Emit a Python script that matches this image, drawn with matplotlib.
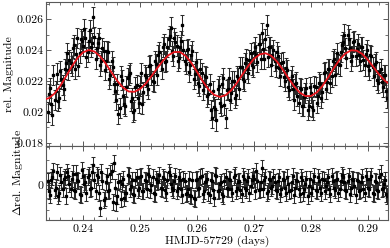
import matplotlib
matplotlib.use("Agg")
import matplotlib.pyplot as plt
from matplotlib.ticker import MultipleLocator, FuncFormatter, FixedLocator

plt.rcParams['font.family'] = ['cmr10', 'DejaVu Serif']
plt.rcParams['mathtext.fontset'] = 'cm'
plt.rcParams['axes.unicode_minus'] = False

# ---- data (two interleaved cadences) ----
hmjd_a = [0.2338, 0.2342, 0.2346, 0.2350, 0.2354, 0.2358, 0.2362, 0.2366, 0.2370, 0.2374,
          0.2378, 0.2382, 0.2386, 0.2390, 0.2394, 0.2398, 0.2402, 0.2406, 0.2410, 0.2414,
          0.2418, 0.2422, 0.2426, 0.2430, 0.2434, 0.2438, 0.2442, 0.2446, 0.2450, 0.2454,
          0.2458, 0.2462, 0.2466, 0.2470, 0.2474, 0.2478, 0.2482, 0.2486, 0.2490, 0.2494,
          0.2498, 0.2502, 0.2506, 0.2510, 0.2514, 0.2518, 0.2522, 0.2526, 0.2530, 0.2534,
          0.2538, 0.2542, 0.2546, 0.2550, 0.2554, 0.2558, 0.2562, 0.2566, 0.2570, 0.2574,
          0.2578, 0.2582, 0.2586, 0.2590, 0.2594, 0.2598, 0.2602, 0.2606, 0.2610, 0.2614,
          0.2618, 0.2622, 0.2626, 0.2630, 0.2634, 0.2638, 0.2642, 0.2646, 0.2650, 0.2654,
          0.2658, 0.2662, 0.2666, 0.2670, 0.2674, 0.2678, 0.2682, 0.2686, 0.2690, 0.2694,
          0.2698, 0.2702, 0.2706, 0.2710, 0.2714, 0.2718, 0.2722, 0.2726, 0.2730, 0.2734,
          0.2738, 0.2742, 0.2746, 0.2750, 0.2754, 0.2758, 0.2762, 0.2766, 0.2770, 0.2774,
          0.2778, 0.2782, 0.2786, 0.2790, 0.2794, 0.2798, 0.2802, 0.2806, 0.2810, 0.2814,
          0.2818, 0.2822, 0.2826, 0.2830, 0.2834, 0.2838, 0.2842, 0.2846, 0.2850, 0.2854,
          0.2858, 0.2862, 0.2866, 0.2870, 0.2874, 0.2878, 0.2882, 0.2886, 0.2890, 0.2894,
          0.2898, 0.2902, 0.2906, 0.2910, 0.2914, 0.2918, 0.2922, 0.2926, 0.2930, 0.2934]

mag_a = [0.01997, 0.02155, 0.01983, 0.02079, 0.02248, 0.02088, 0.02210, 0.02145, 0.02319, 0.02274,
         0.02319, 0.02413, 0.02275, 0.02477, 0.02382, 0.02457, 0.02538, 0.02355, 0.02460, 0.02420,
         0.02610, 0.02340, 0.02445, 0.02300, 0.02415, 0.02270, 0.02395, 0.02210, 0.02330, 0.02180,
         0.02075, 0.01985, 0.02230, 0.02105, 0.02040, 0.02220, 0.02250, 0.02090, 0.02015, 0.02175,
         0.02060, 0.02250, 0.02130, 0.02225, 0.02150, 0.02300, 0.02200, 0.02330, 0.02240, 0.02385,
         0.02280, 0.02440, 0.02330, 0.02470, 0.02545, 0.02360, 0.02450, 0.02330, 0.02420, 0.02560,
         0.02330, 0.02400, 0.02260, 0.02370, 0.02215, 0.02320, 0.02190, 0.02280, 0.02140, 0.02230,
         0.02100, 0.02180, 0.01960, 0.02030, 0.01945, 0.02170, 0.02040, 0.02220, 0.01960, 0.02150,
         0.02080, 0.02200, 0.02090, 0.02230, 0.02150, 0.02290, 0.02200, 0.02340, 0.02250, 0.02380,
         0.02290, 0.02420, 0.02320, 0.02440, 0.02510, 0.02340, 0.02560, 0.02420, 0.02300, 0.02400,
         0.02290, 0.02360, 0.02230, 0.02320, 0.02200, 0.02270, 0.02140, 0.02230, 0.02080, 0.02190,
         0.02060, 0.02150, 0.02040, 0.02120, 0.02010, 0.02160, 0.02030, 0.02170, 0.02060, 0.02190,
         0.02090, 0.02250, 0.02150, 0.02280, 0.02190, 0.02330, 0.02240, 0.02380, 0.02300, 0.02430,
         0.02500, 0.02350, 0.02470, 0.02330, 0.02450, 0.02360, 0.02440, 0.02330, 0.02420, 0.02300,
         0.02400, 0.02270, 0.02360, 0.02230, 0.02320, 0.02190, 0.02280, 0.02160, 0.02240, 0.02090]

res_a_e4 = [3, -8, 6, -4, 10, -6, 2, 5, -9, 7,
            -3, 9, -5, 4, -7, 12, 1, -6, 8, -2,
            16, -5, 6, -18, 3, -10, 7, -4, 11, 17,
            -14, 2, -11, 5, -6, 8, -3, 4, -8, 6,
            -2, 7, -5, 3, 9, -4, 6, -7, 2, 8,
            -3, 5, -6, 10, 1, -4, 7, -2, 4, -8,
            3, -6, 5, -9, -10, 4, -3, 6, -7, 2,
            5, -8, 3, -10, 7, -4, 2, -9, 6, -3,
            4, -6, 8, -2, 3, -7, 5, -4, 6, -1,
            7, -5, 3, -3, 13, 4, -6, 5, -2, 6,
            -4, 3, -7, 5, -2, 6, -5, 2, -8, 4,
            -3, 6, -6, 1, -9, 5, -2, 7, -5, 3,
            -6, 4, -1, 6, -7, 3, -4, 5, -3, 8,
            2, -5, 7, -2, 4, -8, 3, -4, 6, -6,
            5, -3, 7, -7, 2, -5, 9, -2, 4, -9]

hmjd_b = [0.2340, 0.2344, 0.2348, 0.2352, 0.2356, 0.2360, 0.2364, 0.2368, 0.2372, 0.2376,
          0.2380, 0.2384, 0.2388, 0.2392, 0.2396, 0.2400, 0.2404, 0.2408, 0.2412, 0.2416,
          0.2420, 0.2424, 0.2428, 0.2432, 0.2436, 0.2440, 0.2444, 0.2448, 0.2452, 0.2456,
          0.2460, 0.2464, 0.2468, 0.2472, 0.2476, 0.2480, 0.2484, 0.2488, 0.2492, 0.2496,
          0.2500, 0.2504, 0.2508, 0.2512, 0.2516, 0.2520, 0.2524, 0.2528, 0.2532, 0.2536,
          0.2540, 0.2544, 0.2548, 0.2552, 0.2556, 0.2560, 0.2564, 0.2568, 0.2572, 0.2576,
          0.2580, 0.2584, 0.2588, 0.2592, 0.2596, 0.2600, 0.2604, 0.2608, 0.2612, 0.2616,
          0.2620, 0.2624, 0.2628, 0.2632, 0.2636, 0.2640, 0.2644, 0.2648, 0.2652, 0.2656,
          0.2660, 0.2664, 0.2668, 0.2672, 0.2676, 0.2680, 0.2684, 0.2688, 0.2692, 0.2696,
          0.2700, 0.2704, 0.2708, 0.2712, 0.2716, 0.2720, 0.2724, 0.2728, 0.2732, 0.2736,
          0.2740, 0.2744, 0.2748, 0.2752, 0.2756, 0.2760, 0.2764, 0.2768, 0.2772, 0.2776,
          0.2780, 0.2784, 0.2788, 0.2792, 0.2796, 0.2800, 0.2804, 0.2808, 0.2812, 0.2816,
          0.2820, 0.2824, 0.2828, 0.2832, 0.2836, 0.2840, 0.2844, 0.2848, 0.2852, 0.2856,
          0.2860, 0.2864, 0.2868, 0.2872, 0.2876, 0.2880, 0.2884, 0.2888, 0.2892, 0.2896,
          0.2900, 0.2904, 0.2908, 0.2912, 0.2916, 0.2920, 0.2924, 0.2928, 0.2932]

mag_b = [0.02115, 0.02054, 0.02241, 0.02138, 0.02073, 0.02264, 0.02172, 0.02277, 0.02381, 0.02336,
         0.02296, 0.02434, 0.02371, 0.02295, 0.02470, 0.02425, 0.02477, 0.02388, 0.02530, 0.02448,
         0.02482, 0.02411, 0.02477, 0.02330, 0.02391, 0.02326, 0.02389, 0.02236, 0.02289, 0.02132,
         0.02181, 0.02024, 0.02206, 0.02053, 0.02164, 0.02236, 0.02070, 0.01999, 0.02163, 0.02090,
         0.02168, 0.02052, 0.02236, 0.02177, 0.02296, 0.02241, 0.02196, 0.02307, 0.02367, 0.02331,
         0.02420, 0.02320, 0.02420, 0.02491, 0.02394, 0.02476, 0.02429, 0.02349, 0.02457, 0.02402,
         0.02310, 0.02404, 0.02306, 0.02396, 0.02242, 0.02274, 0.02165, 0.02250, 0.02178, 0.02226,
         0.02117, 0.02011, 0.02137, 0.02016, 0.02150, 0.02057, 0.02180, 0.02045, 0.02144, 0.02217,
         0.02120, 0.02198, 0.02108, 0.02219, 0.02292, 0.02214, 0.02316, 0.02278, 0.02337, 0.02306,
         0.02384, 0.02366, 0.02437, 0.02344, 0.02408, 0.02468, 0.02353, 0.02417, 0.02366, 0.02331,
         0.02386, 0.02286, 0.02316, 0.02225, 0.02283, 0.02160, 0.02208, 0.02148, 0.02179, 0.02102,
         0.02157, 0.02037, 0.02098, 0.02152, 0.02040, 0.02123, 0.02010, 0.02161, 0.02105, 0.02182,
         0.02128, 0.02260, 0.02192, 0.02275, 0.02229, 0.02343, 0.02316, 0.02307, 0.02385, 0.02451,
         0.02415, 0.02495, 0.02414, 0.02359, 0.02459, 0.02405, 0.02368, 0.02419, 0.02336, 0.02371,
         0.02295, 0.02366, 0.02287, 0.02308, 0.02208, 0.02260, 0.02194, 0.02238, 0.02135]

res_b_e4 = [-5, 4, 11, -2, -9, 8, -3, 6, 10, 1,
            5, -4, 9, 3, -8, 7, 2, 6, -3, 10,
            4, 8, -6, 10, -12, 2, -5, 9, -13, -2,
            -9, 3, 1, -10, -6, 7, -1, -7, 4, -4,
            6, -5, 4, -3, 7, 0, -6, 5, 3, -2,
            6, -4, 4, 8, -2, 3, -5, 6, -3, 5,
            -7, -3, -8, 4, -11, 5, -2, 7, -5, 3,
            -6, 4, -4, 8, -5, 1, -7, 3, -2, 5,
            -3, 6, -5, 2, -4, 7, -2, 3, -6, 4,
            5, 11, -4, 2, -3, 6, -5, 4, -1, 2,
            -5, 6, -3, 4, -6, 1, -4, 7, -2, 3,
            -7, 4, -3, 5, -1, -6, 3, -4, 6, -2,
            5, -5, 2, -3, 7, -2, 4, -6, 3, 6,
            -4, 3, -7, 5, -1, 4, -5, 2, -3, 7,
            -2, 5, -6, 3, -4, 6, -3, 1, -7]

hmjd = hmjd_a + hmjd_b
rel_mag = mag_a + mag_b
residual = [r * 1e-4 for r in res_a_e4 + res_b_e4]

mag_err = 0.00065
res_err = 0.00063

model_x = [0.2335, 0.234, 0.235, 0.236, 0.237, 0.238, 0.239, 0.240, 0.241, 0.242,
           0.243, 0.244, 0.245, 0.246, 0.247, 0.248, 0.249, 0.250, 0.251, 0.252,
           0.253, 0.254, 0.255, 0.256, 0.257, 0.258, 0.259, 0.260, 0.261, 0.262,
           0.263, 0.264, 0.265, 0.266, 0.267, 0.268, 0.269, 0.270, 0.271, 0.272,
           0.273, 0.274, 0.275, 0.276, 0.277, 0.278, 0.279, 0.280, 0.281, 0.282,
           0.283, 0.284, 0.285, 0.286, 0.287, 0.288, 0.289, 0.290, 0.291, 0.292,
           0.293, 0.2935]
model_y = [0.02084, 0.02089, 0.02119, 0.02168, 0.02229, 0.02292, 0.02347, 0.02385, 0.02400, 0.02390,
           0.02359, 0.02311, 0.02255, 0.02201, 0.02158, 0.02132, 0.02130, 0.02148, 0.02183, 0.02231,
           0.02282, 0.02330, 0.02367, 0.02387, 0.02387, 0.02362, 0.02317, 0.02259, 0.02198, 0.02146,
           0.02110, 0.02097, 0.02108, 0.02140, 0.02188, 0.02244, 0.02298, 0.02344, 0.02372, 0.02379,
           0.02363, 0.02326, 0.02276, 0.02220, 0.02167, 0.02125, 0.02103, 0.02103, 0.02126, 0.02168,
           0.02223, 0.02283, 0.02337, 0.02377, 0.02398, 0.02396, 0.02374, 0.02335, 0.02287, 0.02239,
           0.02200, 0.02187]

x_ticks = [0.24, 0.25, 0.26, 0.27, 0.28, 0.29]

# ---- figure ----
fig = plt.figure(figsize=(3.9, 2.48), dpi=100)
L, R = 46 / 390, 388 / 390
ax1 = fig.add_axes([L, 1 - 146 / 248, R - L, 144 / 248])
ax2 = fig.add_axes([L, 1 - 220 / 248, R - L, 74 / 248])

ebkw = dict(fmt='s', color='black', ecolor='#2a2a2a', ms=2.1, elinewidth=0.75,
            capsize=1.6, capthick=0.75, zorder=2)
ax1.errorbar(hmjd, rel_mag, yerr=mag_err, **ebkw)
ax1.plot(model_x, model_y, color='#e8141c', lw=1.3, zorder=3)
ax2.errorbar(hmjd, residual, yerr=res_err, **ebkw)

fmt = FuncFormatter(lambda v, p: f'{v:g}')
for ax in (ax1, ax2):
    ax.set_xlim(0.2335, 0.2935)
    ax.xaxis.set_major_locator(FixedLocator(x_ticks))
    ax.xaxis.set_minor_locator(MultipleLocator(0.002))
    ax.tick_params(which='both', direction='in', top=True, right=True,
                   colors='0.35', labelcolor='black', labelsize=8.5)
    ax.tick_params(which='major', length=3.5, width=0.7)
    ax.tick_params(which='minor', length=2.2, width=0.6)
    for s in ax.spines.values():
        s.set_color('0.35')
        s.set_linewidth(0.8)

ax1.set_ylim(0.0178, 0.0271)
ax1.yaxis.set_major_locator(MultipleLocator(0.002))
ax1.yaxis.set_minor_locator(MultipleLocator(0.001))
ax1.yaxis.set_major_formatter(fmt)
ax1.tick_params(axis='x', labelbottom=False)
ax1.tick_params(axis='y', pad=2)
ax1.set_ylabel('rel. Magnitude', fontsize=8.5)
ax1.yaxis.set_label_coords(-0.094, 0.5)

ax2.set_ylim(-0.00275, 0.00306)
ax2.yaxis.set_major_locator(FixedLocator([0.0]))
ax2.yaxis.set_minor_locator(FixedLocator([-0.002, -0.001, 0.001, 0.002, 0.003]))
ax2.yaxis.set_major_formatter(FuncFormatter(lambda v, p: '0'))
ax2.xaxis.set_major_formatter(fmt)
ax2.tick_params(axis='y', pad=2)
ax2.set_ylabel(r'$\Delta$rel. Magnitude', fontsize=8.5)
ax2.yaxis.set_label_coords(-0.061, 0.64)
ax2.set_xlabel('HMJD-57729 (days)', fontsize=8.5, labelpad=1)

fig.savefig('out.png', dpi=100)
